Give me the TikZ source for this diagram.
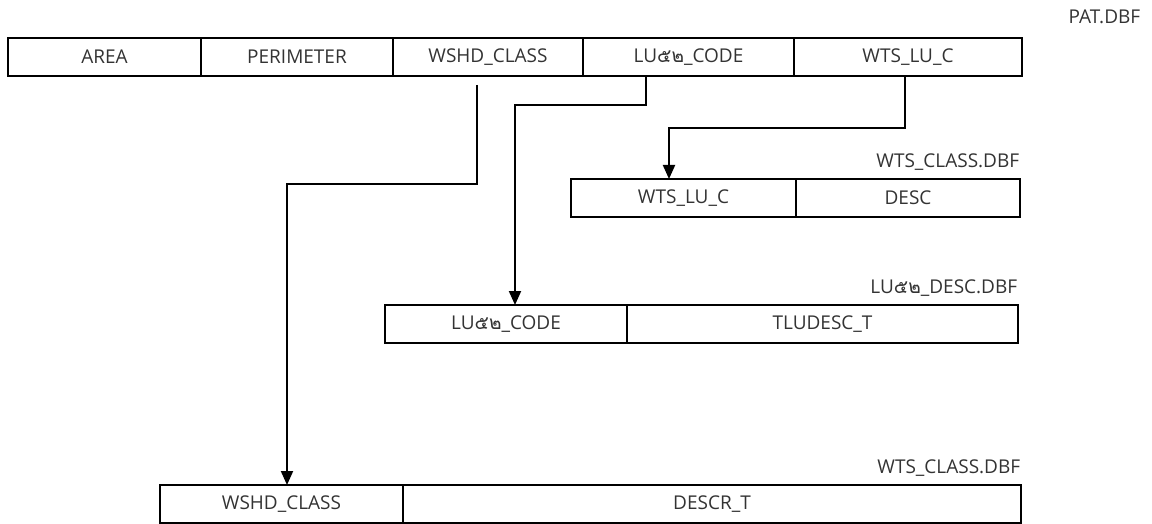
\documentclass[tikz,border=0pt]{standalone}
\usepackage{fontspec}
\usepackage{tikz}
\setmainfont{Open Sans}
\newfontfamily\thaifont[Script=Thai]{Loma}
\usetikzlibrary{positioning,arrows.meta}
\definecolor{ink}{HTML}{333333}
\newcommand{\luname}{LU{\thaifont ๕๒}\_}

\begin{document}
\begin{tikzpicture}[x=0.5pt, y=-0.5pt, thick]
        \tikzstyle{cell} = [rectangle, draw=black, line width=1.3pt, inner sep=0pt, outer sep=0pt, minimum height=19pt, text=ink, font=\fontsize{9.5}{11}\selectfont]
        \tikzstyle{tname} = [anchor=east, inner sep=0pt, text=ink, font=\fontsize{9.5}{11}\selectfont]
        \tikzstyle{link} = [draw, line width=1pt, -{Triangle[width=6pt,length=7pt]}]
        \useasboundingbox (0,0) rectangle (1152,524);

        \node [tname] (pat) at (1141,17) {PAT.DBF};
        \node [cell, minimum width=96.5pt, anchor=north west] (area) at (8,38) {AREA};
        \node [cell, minimum width=96pt, right=0pt of area] (perim) {PERIMETER};
        \node [cell, minimum width=95pt, right=0pt of perim] (wshd) {WSHD\_CLASS};
        \node [cell, minimum width=105.5pt, right=0pt of wshd] (lucode) {\luname CODE};
        \node [cell, minimum width=114pt, right=0pt of lucode] (wtsluc) {WTS\_LU\_C};

        \node [tname] (wtsname) at (1020,162) {WTS\_CLASS.DBF};
        \node [cell, minimum width=112.5pt, anchor=north west] (wcluc) at (571,179) {WTS\_LU\_C};
        \node [cell, minimum width=112pt, right=0pt of wcluc] (wcdesc) {DESC};

        \node [tname] (luname) at (1018,288) {\luname DESC.DBF};
        \node [cell, minimum width=121pt, anchor=north west] (ldcode) at (385,305) {\luname CODE};
        \node [cell, minimum width=195.5pt, right=0pt of ldcode] (ldtext) {TLUDESC\_T};

        \node [tname] (wshdname) at (1021,468) {WTS\_CLASS.DBF};
        \node [cell, minimum width=121.5pt, anchor=north west] (wsclass) at (160,485) {WSHD\_CLASS};
        \node [cell, minimum width=309pt, right=0pt of wsclass] (wsdescr) {DESCR\_T};

        \path [link] ([xshift=-5.5pt, yshift=-4.5pt]wshd.south) -- ++(0,99) -| ([xshift=2.75pt]wsclass.north);
        \path [link] ([xshift=-21.25pt]lucode.south) -- ++(0,29) -| ([xshift=4.5pt]ldcode.north);
        \path [link] ([xshift=-1.5pt]wtsluc.south) -- ++(0,52) -| ([xshift=-7.25pt]wcluc.north);
    \end{tikzpicture}
\end{document}
